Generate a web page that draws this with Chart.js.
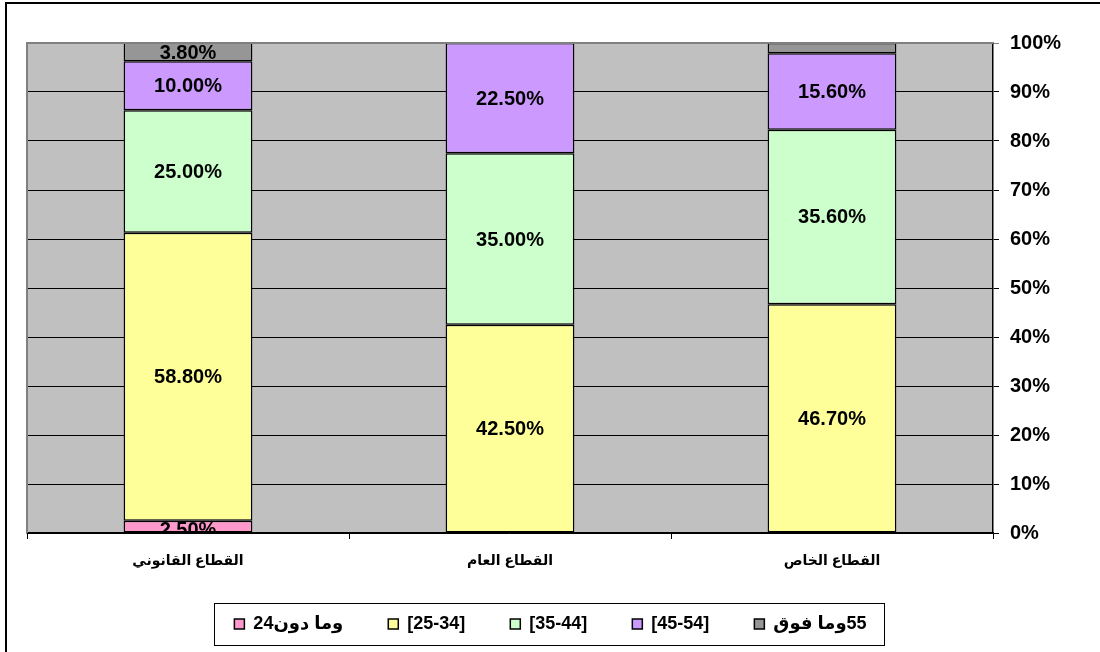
<!DOCTYPE html>
<html><head><meta charset="utf-8">
<script src="https://cdn.jsdelivr.net/npm/chart.js@4/dist/chart.umd.min.js"></script>
<style>html,body{margin:0;padding:0;background:#fff}#wrap{width:1100px;height:652px;position:relative}</style>
</head><body><div id="wrap"><canvas id="c" width="1100" height="652"></canvas></div>
<script>
const categories = ['القطاع القانوني', 'القطاع العام', 'القطاع الخاص'];
const seriesNames = ['وما دون24', '[25-34]', '[35-44]', '[45-54]', '55وما فوق'];
const under24 = [2.5, 0, 0];
const age25_34 = [58.8, 42.5, 46.7];
const age35_44 = [25.0, 35.0, 35.6];
const age45_54 = [10.0, 22.5, 15.6];
const age55plus = [3.8, 0, 2.1];
const yTickValues = [0, 10, 20, 30, 40, 50, 60, 70, 80, 90, 100];
const hiddenLabels = [[4, 2]];
const seriesColors = ['#FF99CC', '#FFFF99', '#CCFFCC', '#CC99FF', '#969696'];

const FONT = '"Liberation Sans", Arial, "DejaVu Sans", sans-serif';
const allSeries = [under24, age25_34, age35_44, age45_54, age55plus];
const LEGEND_SHIFT = 13;

const frame = {
  id: 'frame',
  afterLayout(chart) {
    const lg = chart.legend;
    if (lg) {
      lg.left -= LEGEND_SHIFT; lg.right -= LEGEND_SHIFT;
      (lg.legendHitBoxes || []).forEach(h => { h.left -= LEGEND_SHIFT; });
    }
  },
  beforeDraw(chart) {
    const ctx = chart.ctx, a = chart.chartArea;
    ctx.save();
    ctx.fillStyle = '#fff';
    ctx.fillRect(0, 0, chart.width, chart.height);
    ctx.strokeStyle = '#000';
    ctx.lineWidth = 2;
    ctx.beginPath();
    ctx.moveTo(6, chart.height); ctx.lineTo(6, 3); ctx.lineTo(chart.width, 3);
    ctx.stroke();
    ctx.fillStyle = '#C0C0C0';
    ctx.fillRect(a.left, a.top, a.right - a.left, a.bottom - a.top);
    ctx.restore();
  },
  afterDraw(chart) {
    const ctx = chart.ctx, a = chart.chartArea;
    ctx.save();
    ctx.strokeStyle = '#808080';
    ctx.lineWidth = 2;
    ctx.beginPath();
    ctx.moveTo(a.left, a.bottom); ctx.lineTo(a.left, a.top); ctx.lineTo(a.right, a.top);
    ctx.stroke();
    const lg = chart.legend;
    if (lg && lg.legendHitBoxes && lg.legendHitBoxes.length) {
      const hb = lg.legendHitBoxes;
      let l = Infinity, r = -Infinity, t = Infinity, b = -Infinity;
      hb.forEach(h => { l = Math.min(l, h.left); r = Math.max(r, h.left + h.width); t = Math.min(t, h.top); b = Math.max(b, h.top + h.height); });
      ctx.strokeStyle = '#000';
      ctx.lineWidth = 1;
      ctx.strokeRect(Math.round(l - 20) + 0.5, Math.round(t - 12) + 0.5, Math.round(r - l + 38), Math.round(b - t + 24));
    }
    ctx.restore();
  }
};

const valueLabels = {
  id: 'valueLabels',
  afterDatasetsDraw(chart) {
    const ctx = chart.ctx, a = chart.chartArea;
    ctx.save();
    ctx.beginPath();
    ctx.rect(a.left, a.top - 2, a.right - a.left, a.bottom - a.top + 2);
    ctx.clip();
    ctx.font = 'bold 20px ' + FONT;
    ctx.fillStyle = '#000';
    ctx.textAlign = 'center';
    ctx.textBaseline = 'middle';
    chart.data.datasets.forEach((ds, di) => {
      const meta = chart.getDatasetMeta(di);
      meta.data.forEach((el, i) => {
        const v = ds.data[i];
        if (!v) return;
        if (hiddenLabels.some(h => h[0] === di && h[1] === i)) return;
        const p = el.getProps(['x', 'y', 'base'], true);
        const top = Math.max(p.y, a.top);
        let cy = (top + p.base) / 2 + 1;
        if (p.base - top < 20) cy = Math.max(cy, top + 10);
        ctx.fillText(v.toFixed(2) + '%', p.x, cy);
      });
    });
    ctx.restore();
  }
};

new Chart(document.getElementById('c'), {
  type: 'bar',
  data: {
    labels: categories,
    datasets: seriesNames.map((n, i) => ({
      label: n,
      data: allSeries[i].map(v => v || null),
      backgroundColor: seriesColors[i],
      borderColor: '#000',
      borderWidth: 1.5,
      borderSkipped: false,
      barPercentage: 0.4,
      categoryPercentage: 1
    }))
  },
  options: {
    responsive: false,
    animation: false,
    devicePixelRatio: 1,
    layout: { padding: { top: 43, left: 27, right: 0, bottom: 9 } },
    plugins: {
      tooltip: { enabled: false },
      legend: {
        position: 'bottom',
        textDirection: 'rtl',
        labels: {
          font: { family: FONT, size: 18, weight: 'bold' },
          color: '#000',
          boxWidth: 10,
          boxHeight: 10,
          padding: 45
        }
      }
    },
    scales: {
      x: {
        stacked: true,
        grid: { display: true, drawOnChartArea: false, drawTicks: true, tickLength: 6, color: '#000', offset: true },
        border: { color: '#000', width: 1.5 },
        ticks: { font: { family: FONT, size: 14, weight: 'bold' }, color: '#000', padding: 14 },
        afterFit(s) { s.height = 37; }
      },
      y: {
        stacked: true,
        position: 'right',
        min: 0,
        max: 100,
        afterBuildTicks(s) { s.ticks = yTickValues.map(v => ({ value: v })); },
        ticks: { font: { family: FONT, size: 20, weight: 'bold' }, color: '#000', padding: 11, callback: v => v + '%' },
        grid: { color: ctx => (ctx.tick && ctx.tick.value === 100) ? '#808080' : '#000', lineWidth: 1, tickLength: 6, drawTicks: true },
        border: { color: '#000', width: 1.5 },
        afterFit(s) { s.width = 107; }
      }
    }
  },
  plugins: [frame, valueLabels]
});
</script></body></html>
